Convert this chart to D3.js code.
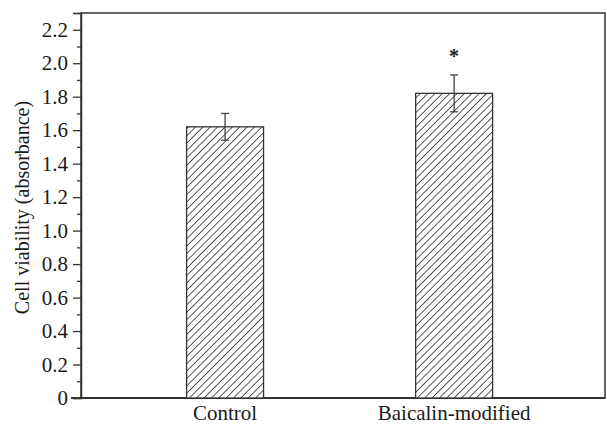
<!DOCTYPE html>
<html>
<head>
<meta charset="utf-8">
<script src="https://cdn.jsdelivr.net/npm/d3@7"></script>
<style>
  body { margin: 0; background: #fff; }
  text { font-family: "Liberation Serif", "DejaVu Serif", serif; fill: #1a1a1a; }
</style>
</head>
<body>
<div id="chart"></div>
<script>
// data
var groups = ["Control", "Baicalin-modified"];
var means = [1.62, 1.82];
var errs = [0.08, 0.11];
var marks = ["", "*"];
var yTicks = [0, 0.2, 0.4, 0.6, 0.8, 1.0, 1.2, 1.4, 1.6, 1.8, 2.0, 2.2];

var svgWidth = 607, svgHeight = 426;
var margin = { top: 13, right: 2, bottom: 28, left: 81 };
var width = svgWidth - margin.left - margin.right;
var height = svgHeight - margin.top - margin.bottom;

var svg = d3.select("#chart").append("svg")
  .attr("width", svgWidth)
  .attr("height", svgHeight);

// hatch pattern
var defs = svg.append("defs");
var pat = defs.append("pattern")
  .attr("id", "hatch")
  .attr("patternUnits", "userSpaceOnUse")
  .attr("width", 5.2).attr("height", 5.2)
  .attr("patternTransform", "rotate(45)");
pat.append("rect").attr("width", 5.2).attr("height", 5.2).attr("fill", "#fff");
pat.append("line")
  .attr("x1", 0).attr("y1", 0).attr("x2", 0).attr("y2", 5.2)
  .attr("stroke", "#333").attr("stroke-width", 1.6);

var chartGroup = svg.append("g")
  .attr("transform", `translate(${margin.left}, ${margin.top})`);

var y = d3.scaleLinear().domain([0, 2.3]).range([height, 0]);
var x = d3.scaleBand().domain(groups).range([0, width * 0.987])
  .paddingInner(0.664).paddingOuter(0.461);

// frame
chartGroup.append("rect")
  .attr("x", 0).attr("y", 0)
  .attr("width", width).attr("height", height)
  .attr("fill", "none").attr("stroke", "#333").attr("stroke-width", 1.5);

// minor ticks
chartGroup.append("g")
  .call(d3.axisLeft(y).tickValues(d3.range(0.1, 2.31, 0.2)).tickSize(4).tickFormat(""))
  .call(g => g.select(".domain").remove())
  .selectAll("line").attr("stroke", "#333").attr("stroke-width", 1.3);

// major ticks
var leftAxis = d3.axisLeft(y).tickValues(yTicks).tickSize(8).tickPadding(5)
  .tickFormat(d => d === 0 ? "0" : d3.format(".1f")(d));
var yAxis = chartGroup.append("g").call(leftAxis);
yAxis.attr("font-family", null).attr("font-size", null);
yAxis.select(".domain").attr("stroke", "#333").attr("stroke-width", 1.5);
yAxis.selectAll("line").attr("stroke", "#333").attr("stroke-width", 1.3);
yAxis.selectAll("text").style("font-size", "21px").attr("fill", "#1a1a1a");

// x labels
chartGroup.append("line")
  .attr("x1", -10).attr("x2", width).attr("y1", height).attr("y2", height)
  .attr("stroke", "#333").attr("stroke-width", 1.8);
chartGroup.selectAll(".xlab")
  .data(groups).enter().append("text")
  .attr("class", "xlab")
  .attr("x", d => x(d) + x.bandwidth() / 2)
  .attr("y", height + 22)
  .attr("text-anchor", "middle")
  .style("font-size", "21px")
  .text(d => d);

// bars
chartGroup.selectAll(".bar")
  .data(groups).enter().append("rect")
  .attr("class", "bar")
  .attr("x", d => x(d))
  .attr("y", (d, i) => y(means[i]))
  .attr("width", x.bandwidth())
  .attr("height", (d, i) => height - y(means[i]))
  .attr("fill", "url(#hatch)")
  .attr("stroke", "#333").attr("stroke-width", 1.3);

// error bars
groups.forEach(function(g, i) {
  var cx = x(g) + x.bandwidth() / 2;
  chartGroup.append("line")
    .attr("x1", cx).attr("x2", cx)
    .attr("y1", y(means[i] + errs[i])).attr("y2", y(means[i] - errs[i]))
    .attr("stroke", "#444").attr("stroke-width", 1.3);
  [means[i] + errs[i], means[i] - errs[i]].forEach(function(v) {
    chartGroup.append("line")
      .attr("x1", cx - 4).attr("x2", cx + 4)
      .attr("y1", y(v)).attr("y2", y(v))
      .attr("stroke", "#444").attr("stroke-width", 1.3);
  });
  if (marks[i]) {
    chartGroup.append("text")
      .attr("x", cx).attr("y", y(means[i] + errs[i]) - 12)
      .attr("text-anchor", "middle")
      .style("font-size", "20px").attr("font-weight", "bold")
      .text(marks[i]);
  }
});

// y label
svg.append("text")
  .attr("transform", `translate(29, ${margin.top + height / 2 + 2}) rotate(-90)`)
  .attr("text-anchor", "middle")
  .style("font-size", "20px")
  .text("Cell viability (absorbance)");
</script>
</body>
</html>
